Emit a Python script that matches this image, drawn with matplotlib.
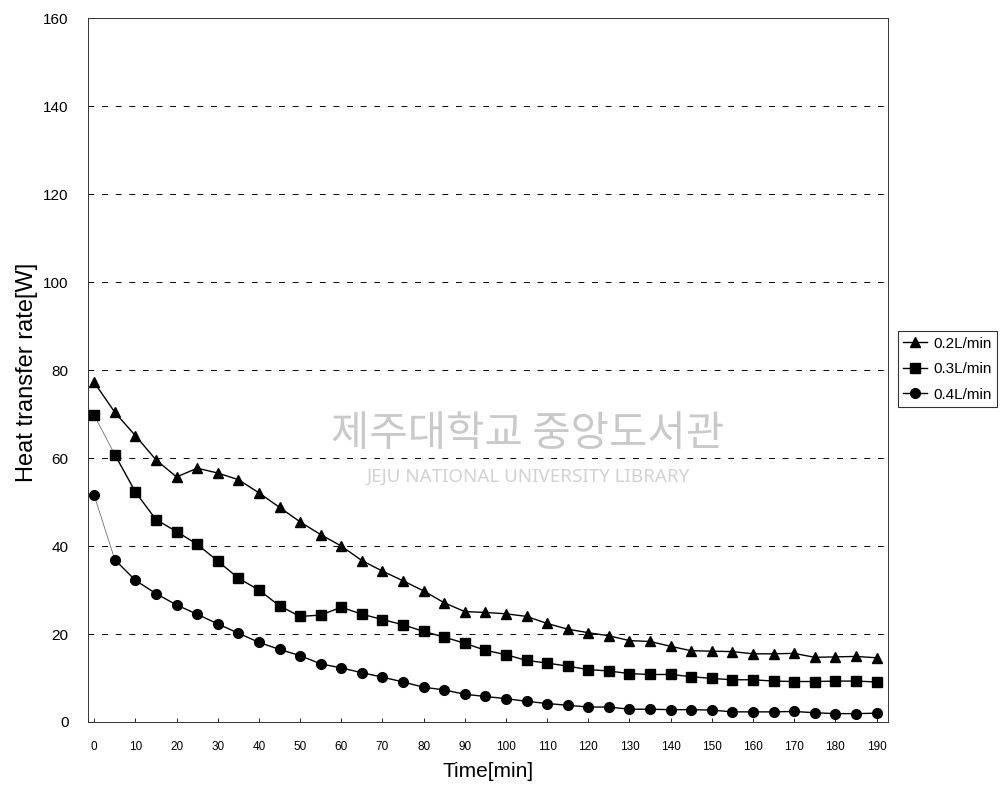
import matplotlib
matplotlib.use("Agg")
import matplotlib.pyplot as plt
import numpy as np

time_min = list(range(0, 195, 5))
flow_02 = [77.2, 70.4, 65.1, 59.6, 55.7, 57.7, 56.6, 55.1, 52.1, 48.8,
           45.5, 42.6, 40.0, 36.7, 34.3, 32.1, 29.8, 27.1, 25.1, 24.9,
           24.6, 24.0, 22.4, 21.1, 20.3, 19.6, 18.5, 18.3, 17.2, 16.2,
           16.1, 16.0, 15.5, 15.5, 15.6, 14.7, 14.8, 14.9, 14.6]
flow_03 = [69.7, 60.8, 52.3, 46.0, 43.3, 40.4, 36.6, 32.7, 30.0, 26.4,
           24.0, 24.3, 26.1, 24.5, 23.3, 22.1, 20.6, 19.3, 17.9, 16.3,
           15.3, 14.0, 13.4, 12.7, 11.9, 11.6, 11.0, 10.8, 10.8, 10.3,
           9.9, 9.6, 9.6, 9.3, 9.2, 9.2, 9.3, 9.3, 9.1]
flow_04 = [51.5, 36.9, 32.2, 29.2, 26.6, 24.5, 22.3, 20.2, 18.1, 16.5,
           15.1, 13.2, 12.3, 11.2, 10.2, 9.1, 7.9, 7.3, 6.3, 5.8,
           5.3, 4.7, 4.2, 3.8, 3.4, 3.4, 2.9, 2.9, 2.8, 2.8,
           2.7, 2.3, 2.3, 2.3, 2.4, 2.1, 1.9, 1.9, 2.0]
series_labels = ["0.2L/min", "0.3L/min", "0.4L/min"]
x_ticks = list(range(0, 200, 10))
y_ticks = list(range(0, 180, 20))

plt.rcParams['font.family'] = ['Liberation Sans', 'DejaVu Sans']

fig = plt.figure(figsize=(10.04, 7.92), dpi=100)
ax = fig.add_axes([0.0877, 0.0884, 0.7968, 0.8886])

# watermark
fig.text(0.525, 0.452, "제주대학교 중앙도서관", family=['Noto Sans CJK KR', 'DejaVu Sans'],
         fontsize=30, color='#c9c9c9', ha='center', va='center', zorder=0)
fig.text(0.526, 0.398, "JEJU NATIONAL UNIVERSITY LIBRARY", family=['Noto Sans', 'DejaVu Sans'],
         fontsize=13.5, color='#d2d2d2', ha='center', va='center', zorder=0)

for yv in y_ticks[1:-1]:
    ax.axhline(yv, color='black', linestyle=(0, (6, 8)), linewidth=0.7, zorder=1)

t = np.array(time_min)
specs = [(flow_02, '^', 7.5), (flow_03, 's', 6.5), (flow_04, 'o', 7)]
handles = []
for (vals, mk, ms), lab in zip(specs, series_labels):
    v = np.array(vals)
    if mk == '^':
        h, = ax.plot(t, v, color='black', linewidth=1.0, marker=mk, markersize=ms,
                     label=lab, zorder=3)
    else:
        ax.plot(t[:2], v[:2], color='#555555', linewidth=0.5, zorder=2)
        ax.plot(t[1:], v[1:], color='black', linewidth=1.0, zorder=2)
        ax.plot(t, v, linestyle='none', marker=mk, markersize=ms, color='black', zorder=3)
        h, = ax.plot([], [], color='black', linewidth=1.0, marker=mk, markersize=ms, label=lab)
    handles.append(h)

ax.set_xlim(-1.5, 192.8)
ax.set_ylim(0, 160)
ax.set_xticks(x_ticks)
ax.set_xticklabels([str(v) for v in x_ticks], fontsize=8.5)
ax.set_yticks(y_ticks)
ax.set_yticklabels([str(v) for v in y_ticks], fontsize=11)
ax.tick_params(axis='x', direction='in', length=3, width=0.6, pad=14)
ax.tick_params(axis='y', length=0, pad=14)
for s in ax.spines.values():
    s.set_linewidth(0.7)
    s.set_color('#333333')

ax.set_ylabel("Heat transfer rate[W]", fontsize=17)
ax.yaxis.set_label_coords(-0.063, 0.497)
ax.set_xlabel("Time[min]", fontsize=15, labelpad=6)

leg = ax.legend(handles=handles, loc='upper left', bbox_to_anchor=(1.012, 0.555),
                frameon=True, fancybox=False, fontsize=11, handlelength=1.6,
                handletextpad=0.4, borderpad=0.35, labelspacing=0.75,
                borderaxespad=0.0)
leg.get_frame().set_edgecolor('black')
leg.get_frame().set_linewidth(0.8)

fig.savefig("out.png", dpi=100, facecolor='white')
